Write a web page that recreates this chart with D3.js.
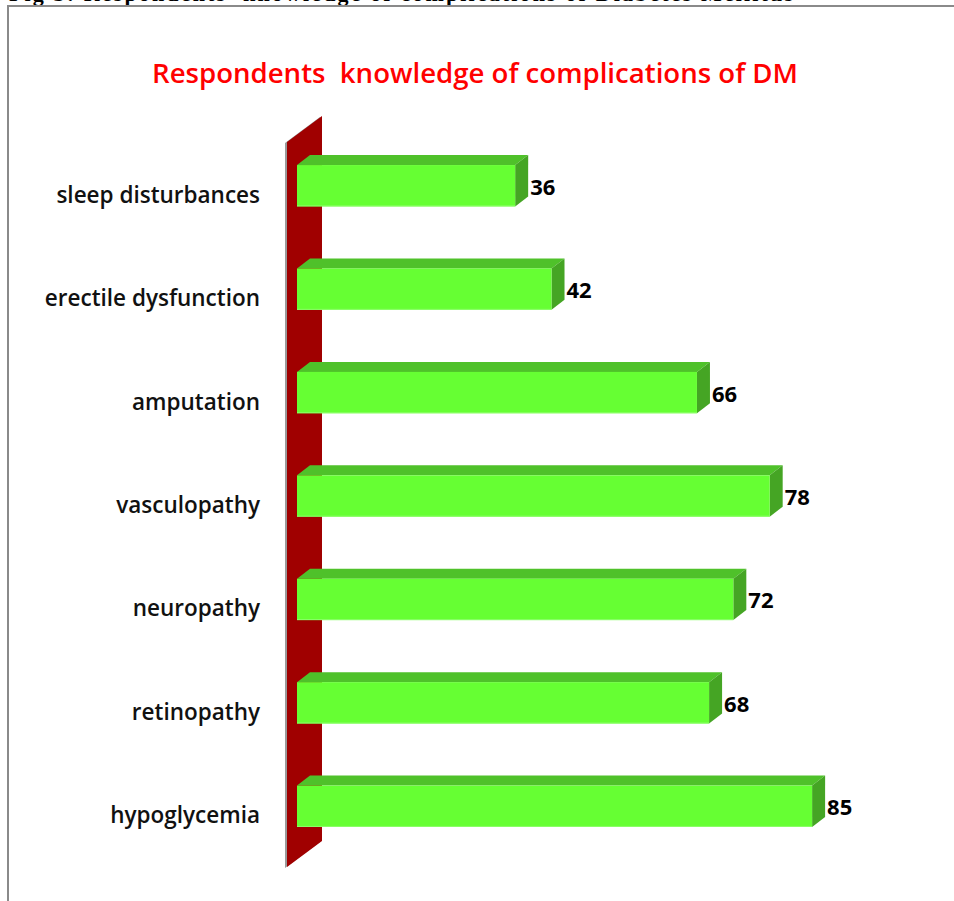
<!DOCTYPE html>
<html>
<head>
<meta charset="utf-8">
<script src="https://cdn.jsdelivr.net/npm/d3@7"></script>
<style>
  body { margin: 0; background: #fff; }
</style>
</head>
<body>
<svg id="chart"></svg>
<script>
// data
var categories = ["sleep disturbances", "erectile dysfunction", "amputation", "vasculopathy", "neuropathy", "retinopathy", "hypoglycemia"];
var values = [36, 42, 66, 78, 72, 68, 85];
var chartTitle = "Respondents  knowledge of complications of DM";
var captionText = "Fig 3: Respondents' knowledge of complications of Diabetes Mellitus";

var dd = {
    width: 954,
    height: 901,
    depth: { dx: 13, dy: -10 },
    wall: { dx: 35, dy: -26 }
}

var svg = d3.select("#chart")
    .attr("width", dd.width)
    .attr("height", dd.height)

var data = categories.map(function(c, i) { return { name: c, value: values[i] }; });

var xScale = d3.scaleLinear().domain([0, 100]).range([297, 903]),
    yScale = d3.scaleBand().domain(categories).range([103, 889]).padding(0.6);

// caption of the figure, cut off by the page top like in the source
svg.append("text")
    .attr("x", 9)
    .attr("y", 1)
    .attr("textLength", 784)
    .attr("font-family", "Liberation Serif, Times New Roman, serif")
    .attr("font-weight", "bold")
    .attr("font-size", 22)
    .text(captionText)

// frame
svg.append("path")
    .attr("d", "M8," + dd.height + "V6H" + dd.width)
    .attr("fill", "none")
    .attr("stroke", "#8a8a8a")
    .attr("stroke-width", 2)

svg.append("text")
    .attr("x", 475)
    .attr("y", 83)
    .attr("text-anchor", "middle")
    .attr("font-family", "Open Sans, sans-serif")
    .attr("font-weight", 600)
    .attr("font-size", 27.6)
    .attr("fill", "#ff0000")
    .style("white-space", "pre")
    .text(chartTitle)

// the red wall
var wx = xScale(0) - 10, wTop = 142, wBot = 867;
var wallPts = [[wx, wTop], [wx + dd.wall.dx, wTop + dd.wall.dy], [wx + dd.wall.dx, wBot + dd.wall.dy], [wx, wBot]];
svg.append("polygon")
    .attr("points", wallPts.map(function(p) { return (p[0] - 2) + "," + (p[1] + 1); }).join(" "))
    .attr("fill", "#9a9a9a")
svg.append("polygon")
    .attr("points", wallPts.join(" "))
    .attr("fill", "#a00000")

var bars = svg.selectAll(".bar")
    .data(data)
    .enter().append("g")
    .attr("class", "bar")

// top face
bars.append("polygon")
    .attr("points", function(d) {
        var x0 = xScale(0), x1 = xScale(d.value), y0 = yScale(d.name);
        return [[x0, y0], [x0 + dd.depth.dx, y0 + dd.depth.dy], [x1 + dd.depth.dx, y0 + dd.depth.dy], [x1, y0]].join(" ");
    })
    .attr("fill", "#4fc12a")

// right face
bars.append("polygon")
    .attr("points", function(d) {
        var x1 = xScale(d.value), y0 = yScale(d.name), y1 = y0 + yScale.bandwidth();
        return [[x1, y0], [x1 + dd.depth.dx, y0 + dd.depth.dy], [x1 + dd.depth.dx, y1 + dd.depth.dy], [x1, y1]].join(" ");
    })
    .attr("fill", "#45a524")

// front face
bars.append("rect")
    .attr("x", xScale(0))
    .attr("y", function(d) { return yScale(d.name); })
    .attr("width", function(d) { return xScale(d.value) - xScale(0); })
    .attr("height", yScale.bandwidth())
    .attr("fill", "#66ff33")

bars.append("line")
    .attr("x1", xScale(0))
    .attr("x2", function(d) { return xScale(d.value); })
    .attr("y1", function(d) { return yScale(d.name) + yScale.bandwidth() - 0.5; })
    .attr("y2", function(d) { return yScale(d.name) + yScale.bandwidth() - 0.5; })
    .attr("stroke", "#8cff6a")

// value labels
bars.append("text")
    .attr("x", function(d) { return xScale(d.value) + dd.depth.dx + 2; })
    .attr("y", function(d) { return yScale(d.name) + yScale.bandwidth() / 2 + 9; })
    .attr("font-family", "Open Sans, sans-serif")
    .attr("font-weight", "bold")
    .attr("font-size", 22)
    .attr("fill", "#000")
    .text(function(d) { return d.value; })

// category labels
svg.append("g")
    .selectAll("text")
    .data(categories)
    .enter().append("text")
    .attr("x", 260)
    .attr("y", function(d) { return yScale(d) + yScale.bandwidth() / 2 + 17; })
    .attr("text-anchor", "end")
    .attr("font-family", "Open Sans, sans-serif")
    .attr("font-weight", 600)
    .attr("font-size", 22.5)
    .attr("fill", "#111")
    .text(function(d) { return d; })
</script>
</body>
</html>
